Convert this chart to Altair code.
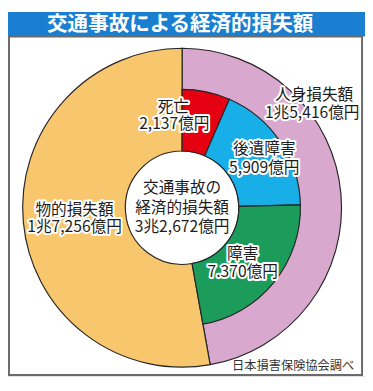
import altair as alt
import pandas as pd

# ---------------- data ----------------
outer_parts = ["人身損失額", "物的損失額"]
outer_values = [15416, 17256]
inner_parts = ["死亡", "後遺障害", "障害", "物的損失額"]
inner_values = [2137, 5909, 7370, 17256]

title_text = "交通事故による経済的損失額"
center_lines = ["交通事故の", "経済的損失額", "3兆2,672億円"]
source_text = "日本損害保険協会調べ"

label_texts = ["死亡", "2,137億円", "後遺障害", "5,909億円", "障害", "7.370億円",
               "人身損失額", "1兆5,416億円", "物的損失額", "1兆7,256億円"]

# ---------------- layout (pixels, chart coords) ----------------
CX, CY = 178, 200
R_HOLE, R_INNER, R_OUTER = 58, 121, 163
label_x = [169, 170, 262, 262, 240, 240, 313, 311, 68, 68]
label_y = [97, 115, 140, 160, 247, 266, 85, 103, 202, 220]
center_x = [178, 178, 178]
center_y = [180, 200, 220]

FONT = "Noto Sans CJK JP"
domain = ["人身損失額", "物的損失額", "死亡", "後遺障害", "障害"]
colors = ["#D9A8CF", "#F8C66D", "#E50012", "#18AEE8", "#1B9C5A"]
cscale = alt.Scale(domain=domain, range=colors)

outer_df = pd.DataFrame({"part": outer_parts, "value": outer_values,
                         "k": list(range(len(outer_parts)))})
inner_df = pd.DataFrame({"part": inner_parts, "value": inner_values,
                         "k": list(range(len(inner_parts)))})
inner_df["hidden"] = inner_df["part"] == "物的損失額"

outer = alt.Chart(outer_df).mark_arc(
    innerRadius=R_HOLE, outerRadius=R_OUTER, stroke="#262626", strokeWidth=1.2, x=CX, y=CY
).encode(
    theta=alt.Theta("value:Q", stack=True),
    order=alt.Order("k:Q"),
    color=alt.Color("part:N", scale=cscale, legend=None),
)

inner = alt.Chart(inner_df).mark_arc(
    innerRadius=R_HOLE, outerRadius=R_INNER, stroke="#262626", strokeWidth=1.2, x=CX, y=CY
).encode(
    theta=alt.Theta("value:Q", stack=True),
    order=alt.Order("k:Q"),
    color=alt.Color("part:N", scale=cscale, legend=None),
    opacity=alt.condition("datum.hidden", alt.value(0), alt.value(1)),
)

one = pd.DataFrame({"a": [0]})
title_bar = alt.Chart(one).mark_rect(color="#1A7FD0").encode(
    x=alt.value(0), x2=alt.value(365), y=alt.value(0), y2=alt.value(25))
title = alt.Chart(one).mark_text(
    text=title_text, font=FONT, fontSize=21, fontWeight="bold", color="white",
    baseline="middle", align="center").encode(x=alt.value(176), y=alt.value(13.5))
frame = alt.Chart(one).mark_rect(fillOpacity=0, stroke="#6a6a6a", strokeWidth=2).encode(
    x=alt.value(1), x2=alt.value(362), y=alt.value(25), y2=alt.value(371))

lab_df = pd.DataFrame({"t": label_texts, "x": label_x, "y": label_y})
halo = alt.Chart(lab_df).mark_text(
    font=FONT, fontSize=16, color="white", stroke="white", strokeWidth=4,
    strokeJoin="round", baseline="middle", align="center"
).encode(x=alt.X("x:Q", scale=None), y=alt.Y("y:Q", scale=None), text="t:N")
labels = alt.Chart(lab_df).mark_text(
    font=FONT, fontSize=16, color="#1c1c1c", baseline="middle", align="center"
).encode(x=alt.X("x:Q", scale=None), y=alt.Y("y:Q", scale=None), text="t:N")

cen_df = pd.DataFrame({"t": center_lines, "x": center_x, "y": center_y})
center = alt.Chart(cen_df).mark_text(
    font=FONT, fontSize=16, color="#1c1c1c", baseline="middle", align="center"
).encode(x=alt.X("x:Q", scale=None), y=alt.Y("y:Q", scale=None), text="t:N")

source = alt.Chart(one).mark_text(
    text=source_text, font=FONT, fontSize=12.5, color="#333333",
    baseline="middle", align="right").encode(x=alt.value(354), y=alt.value(362))

chart = alt.layer(outer, inner, title_bar, title, frame, halo, labels, center, source).properties(
    width=365, height=372, autosize="none", padding=0
).configure_view(strokeWidth=0).configure(background="white")

chart.save("out.html", embed_options={"renderer": "svg", "actions": False})
